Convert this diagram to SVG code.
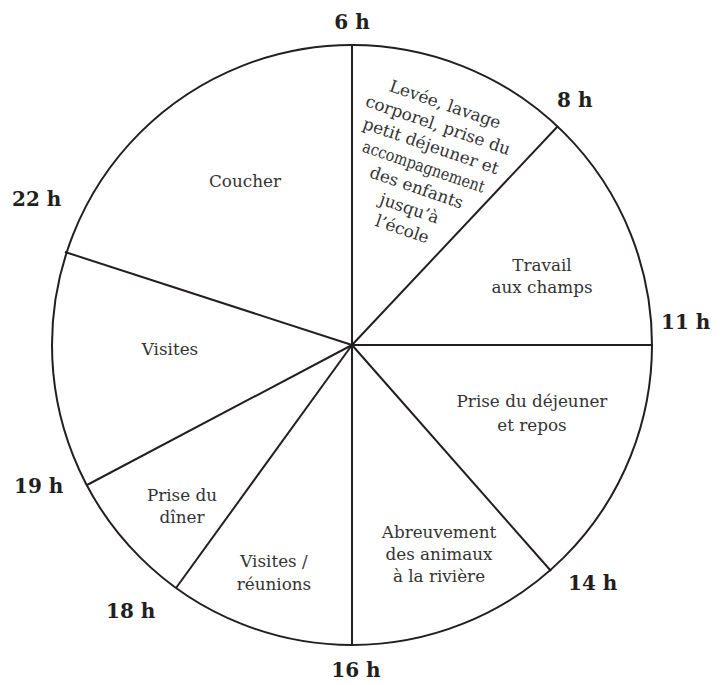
<svg xmlns="http://www.w3.org/2000/svg" width="727" height="685" viewBox="0 0 727 685">
<style>
.hr{font-family:"DejaVu Serif","Liberation Serif",serif;font-weight:bold;font-size:20px;fill:#231f20}
.lb{font-family:"DejaVu Serif","Liberation Serif",serif;font-size:16.8px;fill:#333;text-anchor:middle}
.ln{stroke:#231f20;stroke-width:2;fill:none}
</style>
<rect width="727" height="685" fill="#fff"/>
<g id="connectors">
<circle class="ln" cx="352" cy="345" r="300"/>
<line class="ln" x1="352" y1="345" x2="352" y2="45"/>
<line class="ln" x1="352" y1="345" x2="558" y2="126"/>
<line class="ln" x1="352" y1="345" x2="652" y2="345"/>
<line class="ln" x1="352" y1="345" x2="551" y2="571"/>
<line class="ln" x1="352" y1="345" x2="352" y2="645"/>
<line class="ln" x1="352" y1="345" x2="176" y2="588"/>
<line class="ln" x1="352" y1="345" x2="87" y2="485"/>
<line class="ln" x1="352" y1="345" x2="65" y2="252"/>
</g>
<g id="hours">
<text class="hr" x="352" y="29" text-anchor="middle">6 h</text>
<text class="hr" x="557" y="107">8 h</text>
<text class="hr" x="661" y="329">11 h</text>
<text class="hr" x="568" y="590">14 h</text>
<text class="hr" x="356" y="677" text-anchor="middle">16 h</text>
<text class="hr" x="106" y="618">18 h</text>
<text class="hr" x="14" y="493">19 h</text>
<text class="hr" x="12" y="206">22 h</text>
</g>
<g id="s-lever" transform="translate(445,105) rotate(19)">
<text class="lb" x="0" y="5">Levée, lavage</text>
<text class="lb" x="0" y="27">corporel, prise du</text>
<text class="lb" x="0" y="49">petit déjeuner et</text>
<text class="lb" x="0" y="71" textLength="128" lengthAdjust="spacingAndGlyphs">accompagnement</text>
<text class="lb" x="0" y="93">des enfants</text>
<text class="lb" x="0" y="115">jusqu’à</text>
<text class="lb" x="0" y="137">l’école</text>
</g>
<g id="s-travail">
<text class="lb" x="542" y="271">Travail</text>
<text class="lb" x="542" y="293">aux champs</text>
</g>
<g id="s-dejeuner">
<text class="lb" x="532" y="407">Prise du déjeuner</text>
<text class="lb" x="532" y="431">et repos</text>
</g>
<g id="s-abreuvement">
<text class="lb" x="439" y="538">Abreuvement</text>
<text class="lb" x="439" y="560">des animaux</text>
<text class="lb" x="439" y="582">à la rivière</text>
</g>
<g id="s-reunions">
<text class="lb" x="274" y="567">Visites /</text>
<text class="lb" x="274" y="590">réunions</text>
</g>
<g id="s-diner">
<text class="lb" x="182" y="501">Prise du</text>
<text class="lb" x="182" y="523">dîner</text>
</g>
<g id="s-visites">
<text class="lb" x="170" y="355">Visites</text>
</g>
<g id="s-coucher">
<text class="lb" x="245" y="187">Coucher</text>
</g>
</svg>
